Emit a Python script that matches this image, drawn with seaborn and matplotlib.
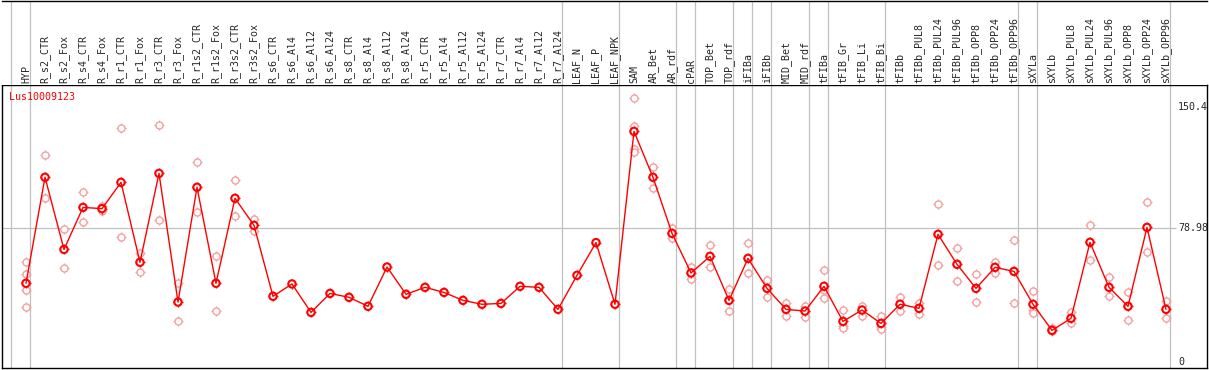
import matplotlib
matplotlib.use("Agg")
import matplotlib.pyplot as plt
import seaborn as sns
import pandas as pd

# samples (x order)
samples = ["HYP", "R_s2_CTR", "R_s2_Fox", "R_s4_CTR", "R_s4_Fox", "R_r1_CTR", "R_r1_Fox",
           "R_r3_CTR", "R_r3_Fox", "R_r1s2_CTR", "R_r1s2_Fox", "R_r3s2_CTR", "R_r3s2_Fox",
           "R_s6_CTR", "R_s6_Al4", "R_s6_Al12", "R_s6_Al24", "R_s8_CTR", "R_s8_Al4",
           "R_s8_Al12", "R_s8_Al24", "R_r5_CTR", "R_r5_Al4", "R_r5_Al12", "R_r5_Al24",
           "R_r7_CTR", "R_r7_Al4", "R_r7_Al12", "R_r7_Al24", "LEAF_N", "LEAF_P", "LEAF_NPK",
           "SAM", "AR_Bet", "AR_rdf", "cPAR", "TOP_Bet", "TOP_rdf", "iFIBa", "iFIBb",
           "MID_Bet", "MID_rdf", "tFIBa", "tFIB_Gr", "tFIB_Li", "tFIB_Bi", "tFIBb",
           "tFIBb_PUL8", "tFIBb_PUL24", "tFIBb_PUL96", "tFIBb_OPP8", "tFIBb_OPP24",
           "tFIBb_OPP96", "sXYLa", "sXYLb", "sXYLb_PUL8", "sXYLb_PUL24", "sXYLb_PUL96",
           "sXYLb_OPP8", "sXYLb_OPP24", "sXYLb_OPP96"]

means = [46.5, 109.1, 66.5, 91.3, 90.6, 106.1, 58.9, 111.4, 35.4, 103.2, 46.5, 96.7, 80.7,
         38.8, 46.1, 29.3, 40.5, 38.2, 32.9, 56.1, 40.0, 44.1, 41.1, 36.4, 34.1, 34.6, 44.7,
         44.1, 31.1, 51.2, 70.5, 34.1, 136.2, 109.1, 76.0, 52.6, 62.4, 36.4, 61.2, 43.5,
         31.1, 30.1, 44.7, 24.0, 30.7, 22.8, 34.1, 31.7, 75.4, 57.7, 43.5, 55.9, 53.5,
         34.1, 18.7, 25.8, 70.7, 44.1, 32.9, 79.5, 31.1]

replicates = [
    [59.3, 52.0, 42.3, 32.7], [122.1, 96.7], [78.4, 55.3], [100.2, 82.5], [92.0, 89.2],
    [138.0, 73.6], [64.2, 53.0], [139.8, 83.7], [46.5, 24.0], [117.9, 88.8], [62.4, 29.9],
    [107.3, 86.0], [84.3, 77.6],
    [], [], [], [], [], [], [], [], [], [], [], [], [], [], [], [], [], [], [],
    [155.7, 139.4, 125.6, 124.2], [115.0, 102.6], [78.9, 73.4], [56.3, 49.2],
    [68.9, 55.9], [42.9, 29.9], [70.1, 52.4], [48.2, 38.2], [34.6, 27.4], [33.3, 26.8],
    [54.1, 42.5, 37.6], [30.7, 21.5, 20.2], [33.3, 27.4], [27.2, 20.5, 19.3],
    [38.4, 29.9], [35.0, 28.2], [93.1, 57.1], [67.1, 47.6], [51.8, 35.2], [59.1, 52.8],
    [71.9, 34.6], [41.9, 30.7, 29.1], [19.9, 18.2], [29.5, 22.8], [80.7, 60.0],
    [50.0, 38.8], [41.1, 24.6], [94.3, 64.8], [36.0, 25.8],
]

# last sample index of each tissue group
group_ends = [0, 28, 31, 34, 35, 37, 38, 39, 41, 42, 45, 52, 53, 60]

gene = "Lus10009123"
ytick_values = [150.4, 78.98, 0]
ytick_labels = ["150.4", "78.98", "0"]

mean_df = pd.DataFrame({"x": range(len(samples)), "value": means})
rep_df = pd.DataFrame([(i, v) for i, reps in enumerate(replicates) for v in reps],
                      columns=["x", "value"])

sns.set_style("white")
plt.rcParams["font.family"] = ["DejaVu Sans Mono"]

RED = "#ff0000"
PINK = "#f2a0a0"
GRAY = "#c0c0c0"
FS = 7.2

fig = plt.figure(figsize=(12.09, 3.70), dpi=100)
W, H = 1209, 370
left = 1.5 / W
width = (1207 - 1.5) / W
ax = fig.add_axes([left, 2 / H, width, (368 - 85) / H])
hax = fig.add_axes([left, (H - 85) / H, width, 84.5 / H])

xmin = (1.5 - 26) / 19
xmax = (1207 - 26) / 19
ymax = (362 - 85) / 1.693
ymin = (362 - 368) / 1.693

# header with rotated sample names
hax.set_xlim(xmin, xmax)
hax.set_ylim(0, 1)
for i, name in enumerate(samples):
    hax.text(i, 0.025, name, rotation=90, ha="center", va="bottom", fontsize=FS)
for sp in ["left", "right", "bottom"]:
    hax.spines[sp].set_visible(False)
hax.spines["top"].set_linewidth(1.0)
hax.spines["top"].set_color("black")
hax.set_xticks([])
hax.set_yticks([])

# group separators
seps = [-0.8] + [e + 0.23 for e in group_ends]
for s in seps:
    ax.axvline(s, color=GRAY, lw=0.9, zorder=0)
    hax.axvline(s, color=GRAY, lw=0.9, zorder=0)

ax.set_xlim(xmin, xmax)
ax.set_ylim(ymin, ymax)
ax.hlines(78.98, xmin, (1176 - 26) / 19, color=GRAY, lw=0.9, zorder=0)

# replicates: ticked open circles
sns.scatterplot(data=rep_df, x="x", y="value", marker="+", s=45, color=PINK,
                linewidth=0.9, ax=ax, zorder=2, legend=False)
sns.scatterplot(data=rep_df, x="x", y="value", marker="o", s=26, facecolor="white",
                edgecolor=PINK, linewidth=1.0, ax=ax, zorder=3, legend=False)

# means
sns.scatterplot(data=mean_df, x="x", y="value", marker="+", s=50, color=RED,
                linewidth=1.0, ax=ax, zorder=4, legend=False)
sns.scatterplot(data=mean_df, x="x", y="value", marker="o", s=28, color="white",
                linewidth=0, ax=ax, zorder=5, legend=False)
sns.lineplot(data=mean_df, x="x", y="value", color=RED, lw=1.0, ax=ax, zorder=6)
sns.scatterplot(data=mean_df, x="x", y="value", marker="o", s=28, facecolor="none",
                edgecolor=RED, linewidth=1.5, ax=ax, zorder=7, legend=False)

ax.text(0.0065, 0.959, gene, color=RED, fontsize=FS, ha="left", va="center",
        transform=ax.transAxes)
for v, lab in zip(ytick_values, ytick_labels):
    ax.text((1178 - 26) / 19, v, lab, fontsize=FS, ha="left", va="center", clip_on=False)

ax.set_xticks([])
ax.set_yticks([])
ax.set_xlabel("")
ax.set_ylabel("")
for sp in ax.spines.values():
    sp.set_color("black")
    sp.set_linewidth(1.0)

fig.savefig("out.png", dpi=100)
